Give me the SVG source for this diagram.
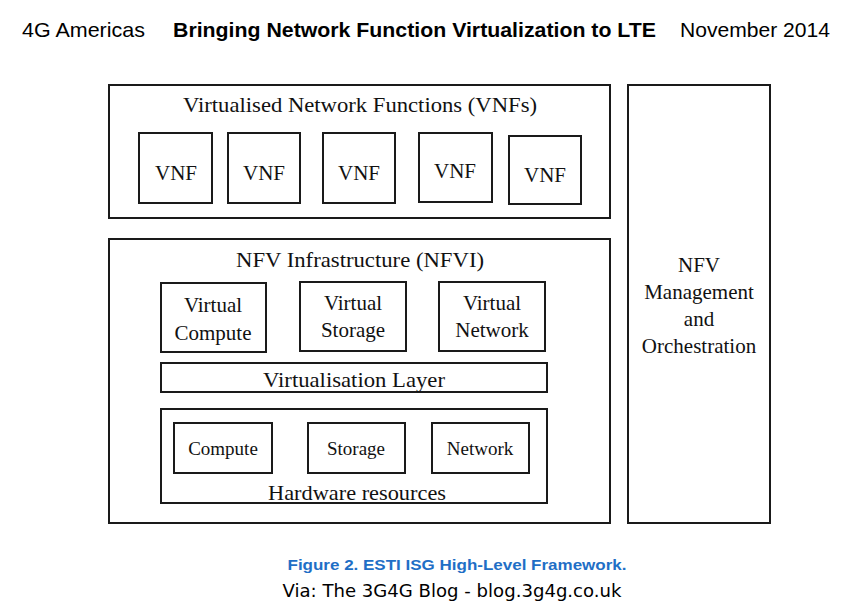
<svg xmlns="http://www.w3.org/2000/svg" width="854" height="614" viewBox="0 0 854 614">
<style>
.box{fill:#fff;stroke:#1a1a1a;stroke-width:2}
.s{font-family:"Liberation Serif","Times New Roman",serif;fill:#111;text-anchor:middle}
.h{font-family:"Liberation Sans",Arial,sans-serif;fill:#000;font-size:21px}
</style>
<rect width="854" height="614" fill="#fff"/>
<g id="header">
<text class="h" x="22" y="37" textLength="123" lengthAdjust="spacingAndGlyphs">4G Americas</text>
<text class="h" x="173" y="37" font-weight="bold" textLength="483" lengthAdjust="spacingAndGlyphs">Bringing Network Function Virtualization to LTE</text>
<text class="h" x="680" y="37" textLength="150" lengthAdjust="spacingAndGlyphs">November 2014</text>
</g>
<g id="vnfs">
<rect class="box" x="109" y="85" width="501" height="133"/>
<text class="s" x="360" y="112" font-size="21" textLength="354" lengthAdjust="spacingAndGlyphs">Virtualised Network Functions (VNFs)</text>
</g>
<g id="vnf1"><rect class="box" x="139" y="133" width="73" height="70"/><text class="s" x="176" y="180" font-size="21">VNF</text></g>
<g id="vnf2"><rect class="box" x="228" y="133" width="72" height="70"/><text class="s" x="264" y="180" font-size="21">VNF</text></g>
<g id="vnf3"><rect class="box" x="323" y="133" width="72" height="70"/><text class="s" x="359" y="180" font-size="21">VNF</text></g>
<g id="vnf4"><rect class="box" x="419" y="133" width="73" height="69"/><text class="s" x="455" y="178" font-size="21">VNF</text></g>
<g id="vnf5"><rect class="box" x="509" y="136" width="72" height="68"/><text class="s" x="545" y="182" font-size="21">VNF</text></g>
<g id="nfvi">
<rect class="box" x="109" y="239" width="501" height="284"/>
<text class="s" x="360" y="267" font-size="21" textLength="248" lengthAdjust="spacingAndGlyphs">NFV Infrastructure (NFVI)</text>
</g>
<g id="vcompute"><rect class="box" x="161" y="283" width="105" height="69"/>
<text class="s" x="213" y="312" font-size="21">Virtual</text><text class="s" x="213" y="340" font-size="21">Compute</text></g>
<g id="vstorage"><rect class="box" x="300" y="282" width="106" height="69"/>
<text class="s" x="353" y="310" font-size="21">Virtual</text><text class="s" x="353" y="337" font-size="21">Storage</text></g>
<g id="vnetwork"><rect class="box" x="439" y="282" width="106" height="69"/>
<text class="s" x="492" y="310" font-size="21">Virtual</text><text class="s" x="492" y="337" font-size="21">Network</text></g>
<g id="vlayer"><rect class="box" x="161" y="363" width="386" height="29"/>
<text class="s" x="354" y="387" font-size="21" textLength="182" lengthAdjust="spacingAndGlyphs">Virtualisation Layer</text></g>
<g id="hardware"><rect class="box" x="161" y="409" width="386" height="94"/>
<text class="s" x="357" y="500" font-size="21" textLength="178" lengthAdjust="spacingAndGlyphs">Hardware resources</text></g>
<g id="compute"><rect class="box" x="174" y="423" width="98" height="50"/><text class="s" x="223" y="455" font-size="19">Compute</text></g>
<g id="storage"><rect class="box" x="308" y="423" width="97" height="50"/><text class="s" x="356" y="455" font-size="19">Storage</text></g>
<g id="network"><rect class="box" x="432" y="423" width="97" height="50"/><text class="s" x="480" y="455" font-size="19">Network</text></g>
<g id="mano"><rect class="box" x="628" y="85" width="142" height="438"/>
<text class="s" x="699" y="272" font-size="21">NFV</text>
<text class="s" x="699" y="299" font-size="21">Management</text>
<text class="s" x="699" y="326" font-size="21">and</text>
<text class="s" x="699" y="353" font-size="21">Orchestration</text></g>
<g id="connectors"></g>
<g id="caption">
<text x="457" y="570" font-family="'Liberation Sans',Arial,sans-serif" font-weight="bold" font-size="15" fill="#1f6fc6" text-anchor="middle" textLength="339" lengthAdjust="spacingAndGlyphs">Figure 2. ESTI ISG High-Level Framework.</text>
<text x="452" y="597" font-family="'DejaVu Sans',sans-serif" font-size="17" fill="#000" text-anchor="middle" textLength="339" lengthAdjust="spacingAndGlyphs">Via: The 3G4G Blog - blog.3g4g.co.uk</text>
</g>
</svg>
